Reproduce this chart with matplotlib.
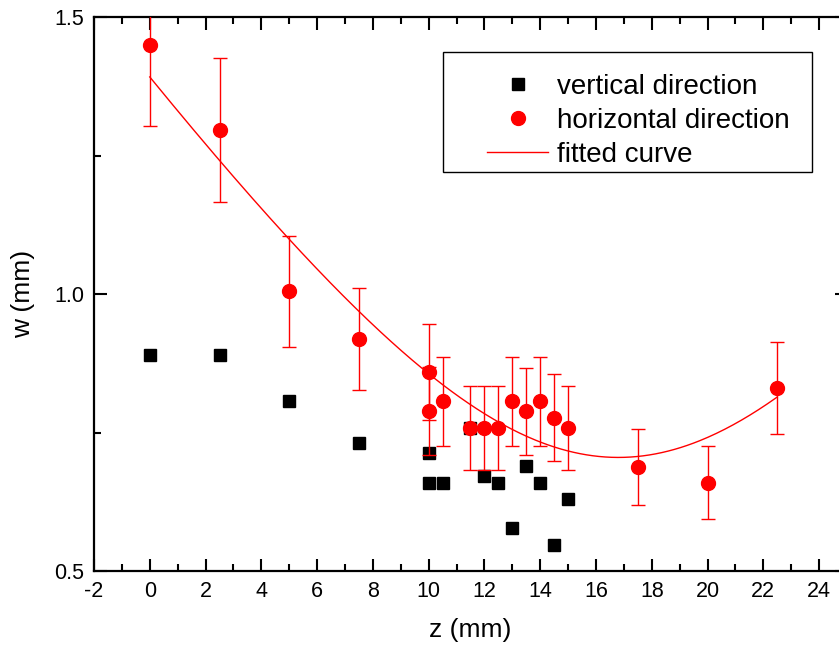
import numpy as np
import matplotlib.pyplot as plt
from matplotlib.ticker import MultipleLocator
from matplotlib.patches import Rectangle

plt.rcParams['font.family'] = ['Liberation Sans', 'DejaVu Sans']
plt.rcParams['axes.unicode_minus'] = False

# beam width measurements along z
z_vert = [0, 2.5, 5, 7.5, 10, 10, 10.5, 11.5, 12, 12.5, 13, 13.5, 14, 14.5, 15]
w_vert = [0.890, 0.890, 0.807, 0.731, 0.713, 0.659, 0.659, 0.758, 0.671, 0.659,
          0.578, 0.690, 0.659, 0.547, 0.630]

z_hor = [0, 2.5, 5, 7.5, 10, 10, 10.5, 11.5, 12, 12.5, 13, 13.5, 14, 14.5, 15,
         17.5, 20, 22.5]
w_hor = [1.449, 1.296, 1.005, 0.919, 0.859, 0.789, 0.806, 0.758, 0.758, 0.758,
         0.806, 0.788, 0.806, 0.777, 0.758, 0.688, 0.659, 0.830]
w_hor_err = [0.145, 0.130, 0.100, 0.092, 0.086, 0.079, 0.081, 0.076, 0.076, 0.076,
             0.081, 0.079, 0.081, 0.078, 0.076, 0.069, 0.066, 0.083]

# gaussian beam fit: waist, waist position, rayleigh length
w0 = 0.705
z0 = 16.8
zR = 9.87
z_fit = np.linspace(0, 22.5, 300)
w_fit = w0 * np.sqrt(1 + ((z_fit - z0) / zR) ** 2)

fig = plt.figure(figsize=(8.39, 6.53), dpi=100)
ax = fig.add_axes([94 / 839, 82 / 653, 753 / 839, 554 / 653])

h_v, = ax.plot(z_vert, w_vert, 's', color='black', markersize=8.5,
               linestyle='none', zorder=2)
ax.errorbar(z_hor, w_hor, yerr=w_hor_err, fmt='none', ecolor='red',
            elinewidth=1, capsize=5, capthick=1, zorder=3)
h_h, = ax.plot(z_hor, w_hor, 'o', color='red', markersize=10,
               linestyle='none', zorder=3)
h_f, = ax.plot(z_fit, w_fit, '-', color='red', linewidth=1, zorder=4)

ax.set_xlim(-2, 25)
ax.set_ylim(0.5, 1.5)
ax.xaxis.set_major_locator(MultipleLocator(2))
ax.xaxis.set_minor_locator(MultipleLocator(1))
ax.yaxis.set_major_locator(MultipleLocator(0.5))
ax.yaxis.set_minor_locator(MultipleLocator(0.25))

ax.tick_params(which='both', direction='in', top=True, right=True, width=1.5)
ax.tick_params(which='major', length=9, labelsize=15.5, pad=7)
ax.tick_params(which='minor', length=5)
for sp in ax.spines.values():
    sp.set_linewidth(1.6)

ax.set_xlabel('z (mm)', fontsize=19, labelpad=12)
ax.set_ylabel('w (mm)', fontsize=19, labelpad=14)

# legend entries without a frame, box drawn separately
leg = ax.legend([h_v, h_h, h_f],
                ['vertical direction', 'horizontal direction', 'fitted curve'],
                loc='upper left', bbox_to_anchor=(0.522, 0.898), fontsize=20,
                frameon=False, handlelength=2.2, borderpad=0, borderaxespad=0,
                labelspacing=0.3, handletextpad=0.3)
ax.add_patch(Rectangle((0.463, 0.720), 0.490, 0.217, transform=ax.transAxes,
                       fill=False, edgecolor='black', linewidth=1, zorder=5))

fig.savefig('out.png', dpi=100)
